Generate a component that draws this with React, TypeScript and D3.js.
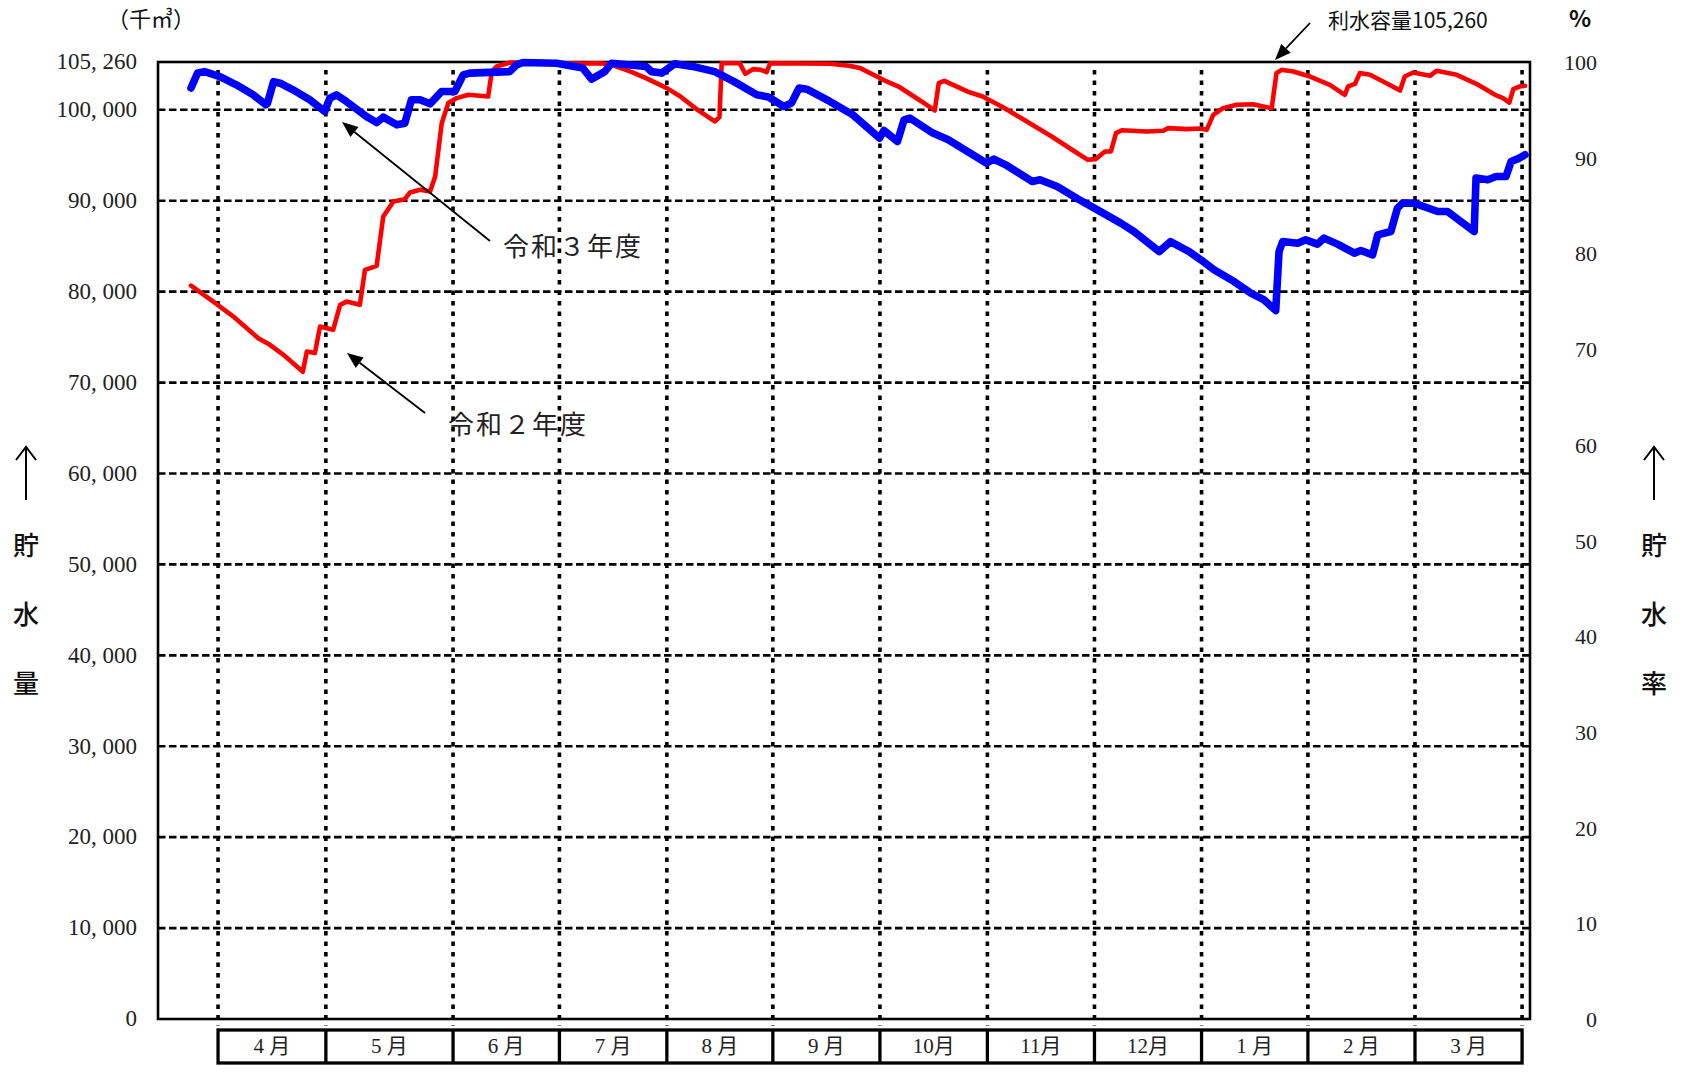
import * as d3 from 'd3';

// 令和2年度 (red) — day index from start of year, storage (千㎥)
const r2Days = [0, 6.1, 11.6, 18.4, 21.6, 25.3, 30.6, 31.7, 33.9, 35.3, 38.9, 40.8, 42.6, 46.2, 47.6, 50.8, 52.6, 55.4, 58.5, 59.9, 62.7, 65.4, 66.8, 68.6, 70.4, 72.7, 75.9, 81.3, 82.3, 83.6, 87.3, 95.5, 106.4, 111.9, 115.1, 120.3, 124.5, 130.2, 133.9, 138.6, 143.3, 144.6, 145.2, 150.1, 151.7, 153.8, 155.9, 157.5, 158.5, 174.8, 180, 183.1, 189.4, 193.6, 199.9, 203.5, 204.6, 206.1, 212.4, 216.6, 221.8, 227.1, 235.5, 241.8, 245.4, 247.5, 250.1, 251.7, 253.1, 254.7, 261.5, 266, 267.4, 272.4, 276.1, 277.9, 279.7, 282.4, 286.1, 290.6, 295.7, 297, 298.4, 301.6, 306.2, 311.6, 315.7, 316.6, 318.5, 319.8, 322.6, 327.1, 330.8, 332.1, 334.4, 339, 340.8, 346.3, 351.7, 356.8, 359, 360.7, 361.8, 363.6, 365];
const r2Values = [80670, 78910, 77260, 74880, 74150, 73050, 71200, 73420, 73240, 76160, 75800, 78550, 78910, 78550, 82400, 82840, 88270, 89920, 90170, 90900, 91200, 91010, 92660, 98530, 100740, 101290, 101650, 101460, 104200, 104760, 105200, 105150, 105100, 105130, 104950, 104210, 103490, 102390, 101460, 100000, 98720, 99200, 105130, 105130, 103960, 104480, 104400, 104140, 105130, 105060, 104840, 104590, 103300, 102560, 100920, 99930, 102940, 103190, 102020, 101460, 100370, 99090, 97070, 95420, 94500, 94580, 95420, 95420, 97440, 97750, 97620, 97700, 97990, 97880, 97950, 97800, 99450, 100180, 100550, 100620, 100180, 104040, 104400, 104220, 103660, 102750, 101650, 102570, 102860, 104040, 103850, 102930, 102120, 103660, 104100, 103740, 104290, 103850, 102860, 101650, 101290, 100800, 102270, 102570, 102640];

// 令和3年度 (blue)
const r3Days = [0, 1.8, 3.7, 7.9, 12.4, 17, 20.5, 20.9, 22.6, 24.4, 27.9, 32.5, 36.6, 38, 39.8, 42.5, 48, 50.8, 52.6, 56.3, 58.5, 60.3, 62.7, 65.4, 68.6, 72.2, 74.5, 76.3, 87.2, 89.1, 90.8, 100, 107.2, 109.6, 113.2, 115.1, 124.5, 126, 128.8, 132.3, 138.1, 143.3, 148.6, 154.8, 158, 162.2, 164.3, 166.4, 168.5, 174.8, 181.1, 188.4, 189.6, 193.3, 195.1, 196.7, 203, 207.2, 217.6, 219.7, 222.9, 230.2, 232.3, 237, 242.8, 248, 254.4, 258, 264.9, 268, 273.1, 276.3, 279.9, 285.4, 290, 293.6, 296.8, 297.7, 298.7, 302.8, 305, 308.2, 310, 313.7, 318.3, 320.1, 323.3, 324.7, 328.3, 330.1, 331.5, 334.7, 341.1, 343.8, 351.1, 351.6, 354.8, 357.1, 359.8, 361.2, 363.5, 365];
const r3Values = [102390, 104040, 104200, 103660, 102750, 101650, 100550, 100700, 103100, 102930, 102200, 101100, 99820, 101290, 101650, 100920, 99270, 98600, 99200, 98350, 98530, 101100, 101100, 100660, 102020, 102020, 103850, 104040, 104200, 104950, 105200, 105130, 104590, 103380, 104200, 105130, 104760, 104200, 104040, 105060, 104700, 104200, 103100, 101650, 101400, 100370, 100740, 102390, 102270, 100920, 99450, 96890, 97730, 96520, 98900, 99090, 97440, 96700, 94140, 94580, 93950, 92120, 92300, 91560, 90170, 89000, 87540, 86610, 84410, 85510, 84410, 83500, 82400, 81110, 79830, 79100, 77920, 84410, 85510, 85330, 85700, 85230, 85890, 85230, 84240, 84530, 84050, 86250, 86610, 89190, 89740, 89740, 88820, 88820, 86610, 92490, 92300, 92670, 92670, 94320, 94690, 95050];

const capacity = 105260;
const leftTicks = [0, 10000, 20000, 30000, 40000, 50000, 60000, 70000, 80000, 90000, 100000, 105260];
const gridValues = [10000, 20000, 30000, 40000, 50000, 60000, 70000, 80000, 90000, 100000];
const rightTicks = [0, 10, 20, 30, 40, 50, 60, 70, 80, 90, 100];
const monthLabels = ['4 月', '5 月', '6 月', '7 月', '8 月', '9 月', '10月', '11月', '12月', '1 月', '2 月', '3 月'];
const monthEdges = [7.4, 36.9, 71.7, 100.8, 130.2, 159.2, 188.5, 217.9, 247.2, 276.5, 305.6, 334.9, 364.2];

const W = 1686;
const H = 1073;
const frame = { left: 158, right: 1530, top: 62, bottom: 1019 };
const serif = '"Liberation Serif", "DejaVu Serif", "Noto Sans CJK JP", serif';
const cjk = '"Noto Sans CJK JP", sans-serif';

function Arrow({ x1, y1, x2, y2 }: { x1: number; y1: number; x2: number; y2: number }) {
  const a = Math.atan2(y2 - y1, x2 - x1);
  const len = 16;
  const half = 6.5;
  const bx = x2 - len * Math.cos(a);
  const by = y2 - len * Math.sin(a);
  const px = -Math.sin(a) * half;
  const py = Math.cos(a) * half;
  return (
    <g>
      <line x1={x1} y1={y1} x2={bx} y2={by} stroke="#000" strokeWidth={1.8} />
      <polygon points={`${x2},${y2} ${bx + px},${by + py} ${bx - px},${by - py}`} fill="#000" />
    </g>
  );
}

export default function App() {
  const x = d3.scaleLinear().domain([0, 365]).range([191, 1525]);
  const y = d3.scaleLinear().domain([0, capacity]).range([frame.bottom, frame.top]);
  const yPct = d3.scaleLinear().domain([0, 100]).range([frame.bottom, frame.top]);

  const line = d3
    .line<[number, number]>()
    .x((d) => x(d[0]))
    .y((d) => y(d[1]));

  const r2Path = line(r2Days.map((d, i) => [d, r2Values[i]] as [number, number])) ?? '';
  const r3Path = line(r3Days.map((d, i) => [d, r3Values[i]] as [number, number])) ?? '';

  const fmt = (v: number) => d3.format(',')(v).replace(',', ', ');

  return (
    <svg
      width={W}
      height={H}
      style={{ position: 'absolute', left: 0, top: 0, background: '#fff' }}
    >
      {/* horizontal dashed grid */}
      {gridValues.map((v) => (
        <line
          key={v}
          x1={frame.left}
          x2={frame.right}
          y1={y(v)}
          y2={y(v)}
          stroke="#000"
          strokeWidth={2.6}
          strokeDasharray="7.5 3.5"
        />
      ))}
      {/* vertical dotted month lines */}
      {monthEdges.map((d) => (
        <line
          key={d}
          x1={x(d)}
          x2={x(d)}
          y1={frame.top + 8}
          y2={frame.bottom + 7}
          stroke="#000"
          strokeWidth={3.6}
          strokeDasharray="4.5 6"
        />
      ))}
      {/* frame */}
      <rect
        x={frame.left}
        y={frame.top}
        width={frame.right - frame.left}
        height={frame.bottom - frame.top}
        fill="none"
        stroke="#000"
        strokeWidth={2.6}
      />

      {/* series */}
      <path d={r2Path} fill="none" stroke="#ff0000" strokeWidth={4.6} strokeLinejoin="round" strokeLinecap="round" />
      <path d={r3Path} fill="none" stroke="#0000ff" strokeWidth={7.6} strokeLinejoin="round" strokeLinecap="round" />

      {/* left axis labels */}
      {leftTicks.map((v) => (
        <text
          key={v}
          x={137}
          y={y(v) + 2}
          textAnchor="end"
          dominantBaseline="middle"
          fontFamily={serif}
          fontSize={23}
          fill="#222"
        >
          {fmt(v)}
        </text>
      ))}
      {/* right axis labels */}
      {rightTicks.map((v) => (
        <text
          key={v}
          x={1597}
          y={yPct(v) + 3}
          textAnchor="end"
          dominantBaseline="middle"
          fontFamily={serif}
          fontSize={22}
          fill="#222"
        >
          {v}
        </text>
      ))}

      {/* month table */}
      <rect
        x={x(monthEdges[0])}
        y={1030}
        width={x(monthEdges[12]) - x(monthEdges[0])}
        height={33}
        fill="none"
        stroke="#000"
        strokeWidth={3.3}
      />
      {monthEdges.slice(1, 12).map((d) => (
        <line key={d} x1={x(d)} x2={x(d)} y1={1030} y2={1063} stroke="#000" strokeWidth={3.3} />
      ))}
      {monthLabels.map((m, i) => (
        <text
          key={m}
          x={(x(monthEdges[i]) + x(monthEdges[i + 1])) / 2}
          y={1048}
          textAnchor="middle"
          dominantBaseline="middle"
          fontFamily={serif}
          fontSize={21}
          fill="#222"
        >
          {m}
        </text>
      ))}

      {/* units */}
      <text x={151} y={21} textAnchor="middle" dominantBaseline="middle" fontFamily={cjk} fontSize={22} fill="#111">
        （千㎥）
      </text>
      <text x={1580} y={21} textAnchor="middle" dominantBaseline="middle" fontFamily={cjk} fontSize={23} fontWeight={700} fill="#111">
        %
      </text>

      {/* axis titles */}
      {[
        { cx: 26, chars: ['貯', '水', '量'] },
        { cx: 1654, chars: ['貯', '水', '率'] },
      ].map((t) => (
        <g key={t.cx}>
          <line x1={t.cx} x2={t.cx} y1={448} y2={500} stroke="#000" strokeWidth={2} />
          <polyline
            points={`${t.cx - 10},${460} ${t.cx},${447} ${t.cx + 10},${460}`}
            fill="none"
            stroke="#000"
            strokeWidth={2}
          />
          {t.chars.map((c, i) => (
            <text
              key={c}
              x={t.cx}
              y={548 + i * 69}
              textAnchor="middle"
              dominantBaseline="middle"
              fontFamily={cjk}
              fontSize={26}
              fontWeight={500}
              fill="#111"
            >
              {c}
            </text>
          ))}
        </g>
      ))}

      {/* annotations */}
      <Arrow x1={490} y1={241} x2={342} y2={122} />
      <text x={503} y={250} dominantBaseline="middle" fontFamily={serif} fontSize={26} letterSpacing={2} fill="#222">
        令和３年度
      </text>
      <Arrow x1={425} y1={413} x2={347} y2={353} />
      <text x={448} y={428} dominantBaseline="middle" fontFamily={serif} fontSize={26} letterSpacing={2} fill="#222">
        令和２年度
      </text>
      <Arrow x1={1310} y1={23} x2={1275} y2={60} />
      <text x={1328} y={22} dominantBaseline="middle" fontFamily={cjk} fontSize={21} fill="#111">
        利水容量105,260
      </text>
    </svg>
  );
}
